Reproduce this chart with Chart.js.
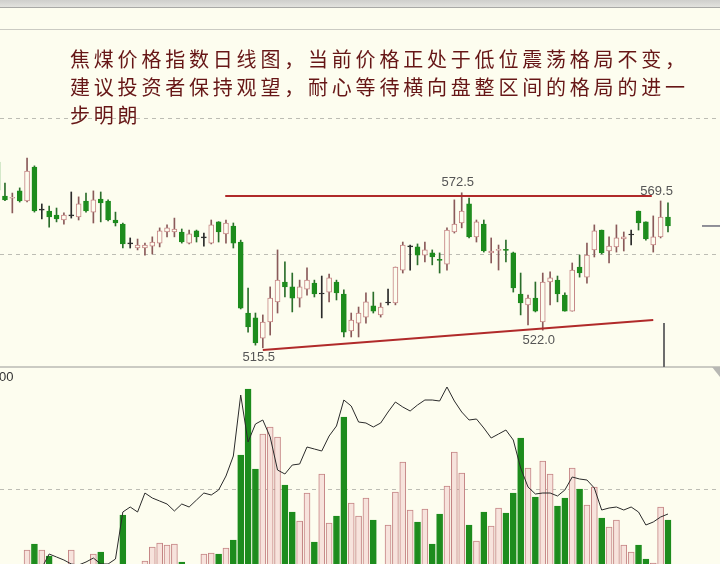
<!doctype html>
<html>
<head>
<meta charset="utf-8" />
<title>焦煤价格指数日线图</title>
<style>
  html, body { margin:0; padding:0; }
  body { width:720px; height:564px; overflow:hidden; background:#fdfdef; position:relative; font-family:"Noto Sans CJK SC", sans-serif; }
  .topbar { position:absolute; left:0; top:0; width:720px; height:7px; background:linear-gradient(#cfcfcc,#e2e2de); border-bottom:1px solid #a9a9a6; }
  .hline { position:absolute; left:0; width:720px; background:#cbcbc3; }
  .vline { position:absolute; background:#6d6d6d; width:2px; }
  .corner { position:absolute; right:0; top:367px; width:0; height:0; border-top:10px solid #b8b8b4; border-left:8px solid transparent; }
  #c { position:absolute; left:0; top:0; }
  .note { position:absolute; left:70px; top:45px; font-size:20px; letter-spacing:3.8px; line-height:28px; color:#661616; white-space:nowrap; }
</style>
</head>
<body>
  <div class="topbar"></div>
  <div class="hline" style="top:29px;height:1px"></div>
  <div class="hline" style="top:366px;height:2px"></div>
  <div class="vline" style="left:663px;top:323px;height:44px"></div>
  <div class="corner"></div>
  <canvas id="c" width="720" height="564"></canvas>
  <div class="note">焦煤价格指数日线图，当前价格正处于低位震荡格局不变，<br>建议投资者保持观望，耐心等待横向盘整区间的格局的进一<br>步明朗</div>

  <script src="https://cdn.jsdelivr.net/npm/chart.js@4.4.1/dist/chart.umd.min.js"></script>
  <script>
    // daily candles, oldest -> newest
    const opens  = [583.8,571.3,570.5,573.2,569.5,582.0,566.1,565.8,564.3,562.5,
                    564.0,563.6,569.5,565.4,570.2,569.5,562.5,561.0,553.7,552.2,
                    552.2,552.9,554.0,558.1,558.1,558.1,554.0,558.5,556.0,554.0,
                    561.8,557.4,560.3,554.4,528.3,526.5,519.1,525.0,532.4,539.7,
                    537.9,533.8,537.1,539.3,535.4,536.0,539.7,535.3,521.7,524.6,
                    526.8,530.9,527.6,532.0,532.0,544.1,552.6,552.6,549.6,550.4,
                    548.0,546.3,558.1,561.4,568.4,556.3,561.0,550.4,551.3,551.7,
                    550.4,535.3,531.3,533.8,525.0,539.7,540.4,534.9,529.0,545.2,
                    541.5,551.5,558.8,551.1,552.6,555.5,557.0,565.8,561.8,553.3,
                    556.3,563.6];
    const highs  = [585.0,576.1,572.4,574.3,585.3,582.4,568.4,567.6,566.9,565.1,
                    572.8,571.0,572.4,573.2,572.8,569.9,565.4,561.4,555.9,555.5,
                    554.0,556.3,559.6,560.7,563.2,559.2,558.8,558.8,557.7,562.5,
                    561.9,562.5,561.4,555.1,537.5,528.3,527.6,537.9,551.5,547.1,
                    543.0,540.4,544.9,540.4,541.9,542.6,540.4,536.8,528.3,530.5,
                    535.7,536.0,532.0,537.1,545.2,554.4,553.3,553.7,554.4,551.5,
                    550.4,559.6,569.9,572.5,570.6,562.5,562.5,555.9,553.3,555.1,
                    550.7,543.0,534.9,539.7,543.0,543.4,541.9,535.7,546.7,549.6,
                    554.0,560.7,558.8,556.3,560.7,558.1,558.8,565.8,561.8,564.0,
                    569.5,568.8];
    const lows   = [572.8,569.6,565.1,569.1,569.1,565.4,562.9,559.9,561.8,561.0,
                    563.2,562.5,565.4,561.4,561.8,562.2,560.3,552.2,552.2,551.5,
                    549.6,550.0,552.6,556.3,556.3,554.0,553.7,554.4,552.9,553.7,
                    554.4,554.0,552.2,529.8,521.3,516.5,515.5,520.2,528.3,534.2,
                    528.7,530.5,534.9,534.2,526.5,532.4,533.1,519.5,519.5,519.5,
                    524.6,528.3,526.8,531.3,531.3,543.0,544.1,546.0,547.1,546.0,
                    543.0,544.1,557.7,559.6,555.9,554.4,550.7,546.7,544.1,547.1,
                    536.0,527.6,523.9,528.7,522.0,531.3,532.4,529.0,529.0,541.5,
                    539.3,548.9,550.0,546.7,550.7,551.1,553.3,558.8,555.1,550.7,
                    555.9,558.1];
    const closes = [573.5,569.9,570.8,569.5,580.5,565.8,566.2,563.6,562.9,564.3,
                    564.1,568.4,565.8,569.9,568.8,562.5,561.4,553.7,553.7,553.3,
                    553.3,554.4,558.5,559.6,559.2,554.4,557.4,556.3,555.9,560.7,
                    558.1,561.4,554.0,530.1,523.2,517.3,525.0,533.8,540.4,537.9,
                    533.8,537.9,540.4,535.3,535.3,541.2,535.7,521.3,525.7,528.3,
                    532.4,529.0,530.5,532.1,545.2,553.3,552.7,549.6,551.5,548.9,
                    547.6,558.8,561.0,565.8,556.3,561.8,551.1,551.1,551.7,551.3,
                    537.5,532.0,533.8,529.0,539.7,541.2,535.3,529.0,544.1,543.0,
                    549.6,558.5,550.4,552.9,555.9,556.3,557.1,561.4,555.5,556.3,
                    563.6,560.3];

    // volume (lower pane) and its moving average
    const volumes = [15,17,13,20,39,45,39,33,19,15,
                     39,21,17,35,37,21,19,74,23,20,
                     28,42,46,44,45,27,22,23,35,36,
                     35,41,49,134,200,120,155,162,152,104,
                     77,68,96,47,115,66,73,172,86,73,
                     91,69,23,64,97,127,79,67,80,45,
                     75,103,137,116,64,48,77,63,81,76,
                     96,151,121,92,128,115,83,91,121,100,
                     84,102,71,62,69,44,37,44,30,26,
                     82,69];
    const volMA = [17,16,17,19,20,22,21,35,32,29,
                   25,24,27,31,25,25,30,77,82,77,
                   96,91,88,85,78,85,82,89,96,94,
                   99,113,133,194,147,165,169,152,119,115,
                   124,125,142,140,138,153,163,189,183,167,
                   166,162,166,177,187,182,178,184,189,189,
                   188,202,188,177,169,170,161,151,155,159,
                   149,121,102,95,96,96,93,99,112,110,
                   109,101,79,81,82,79,82,77,64,67,
                   72,75];

    // hand drawn lines on the price pane
    const resistance = [{ x: 30.9, y: 571.3 }, { x: 88.8, y: 571.3 }];
    const support    = [{ x: 36.0, y: 514.7 }, { x: 89.0, y: 525.7 }];
    const marks = [
      { i: 63, v: 572.5, above: true },
      { i: 36, v: 515.5, above: false },
      { i: 74, v: 522.0, above: false },
      { i: 90, v: 569.5, above: true }
    ];
    const priceGrid = [600, 550];
    const volGrid = [100];

    const GREEN = '#1d8c1d';
    const ROSE = '#c48484';
    const CREAM = '#fdfdef';

    const kind = (i) => {
      const d = closes[i] - opens[i];
      if (Math.abs(d) < 0.15) return 'doji';
      return d > 0 ? 'up' : 'down';
    };
    const idx = opens.map((_, i) => i);

    const overlay = {
      id: 'overlay',
      beforeDatasetsDraw(chart) {
        const { ctx, scales: { y, yVol } } = chart;
        ctx.save();
        ctx.strokeStyle = '#bdbdb4';
        ctx.lineWidth = 1;
        ctx.setLineDash([4, 4]);
        const dash = (py) => {
          py = Math.round(py) + 0.5;
          ctx.beginPath(); ctx.moveTo(0, py); ctx.lineTo(720, py); ctx.stroke();
        };
        priceGrid.forEach(v => dash(y.getPixelForValue(v)));
        volGrid.forEach(v => dash(yVol.getPixelForValue(v)));
        ctx.restore();
      },
      afterDatasetsDraw(chart) {
        const { ctx, scales: { x, y } } = chart;
        ctx.save();
        ctx.font = '13px "Liberation Sans", Arial, sans-serif';
        ctx.fillStyle = '#555';
        ctx.textAlign = 'center';
        ctx.textBaseline = 'middle';
        for (const m of marks) {
          const px = x.getPixelForValue(m.i) - 4;
          const py = y.getPixelForValue(m.v) + (m.above ? -10 : 10);
          ctx.fillText(m.v.toFixed(1), px, py);
        }
        // top label of the volume pane, cut by the left edge
        ctx.textAlign = 'left';
        ctx.fillStyle = '#333';
        ctx.fillText('00', -1, 377);
        // last close marker on the right
        const ly = y.getPixelForValue(closes[closes.length - 1]);
        ctx.strokeStyle = '#6b6b7b';
        ctx.lineWidth = 1.5;
        ctx.beginPath(); ctx.moveTo(702, ly); ctx.lineTo(720, ly); ctx.stroke();
        ctx.restore();
      }
    };

    new Chart(document.getElementById('c'), {
      data: {
        datasets: [
          {
            type: 'line', data: resistance, xAxisID: 'x', yAxisID: 'y',
            borderColor: '#b02a2a', borderWidth: 2, pointRadius: 0, order: 0
          },
          {
            type: 'line', data: support, xAxisID: 'x', yAxisID: 'y',
            borderColor: '#b02a2a', borderWidth: 2, pointRadius: 0, order: 0
          },
          {
            type: 'line', data: idx.map(i => ({ x: i, y: volMA[i] })), yAxisID: 'yVol',
            borderColor: '#2a2a2a', borderWidth: 1, pointRadius: 0, tension: 0, order: 1
          },
          {
            // bodies
            type: 'bar', data: idx.map(i => ({ x: i, y: [opens[i], closes[i]] })), yAxisID: 'y',
            grouped: false, barThickness: 5, maxBarThickness: 5, minBarLength: 1,
            borderWidth: 1, borderSkipped: false,
            backgroundColor: (c) => ({ up: CREAM, down: GREEN, doji: '#2a2a2a' })[kind(c.dataIndex)],
            borderColor: (c) => ({ up: ROSE, down: GREEN, doji: '#2a2a2a' })[kind(c.dataIndex)],
            order: 2
          },
          {
            // wicks
            type: 'bar', data: idx.map(i => ({ x: i, y: [lows[i], highs[i]] })), yAxisID: 'y',
            grouped: false, barThickness: 1, maxBarThickness: 1, borderWidth: 0,
            backgroundColor: (c) => ({ up: '#8a5a5a', down: '#2b6e2b', doji: '#2a2a2a' })[kind(c.dataIndex)],
            order: 3
          },
          {
            type: 'bar', data: idx.map(i => ({ x: i, y: volumes[i] })), yAxisID: 'yVol',
            grouped: false, barThickness: 6, maxBarThickness: 6,
            borderWidth: 1, borderSkipped: false,
            backgroundColor: (c) => kind(c.dataIndex) === 'down' ? GREEN : '#f7e3dc',
            borderColor: (c) => kind(c.dataIndex) === 'down' ? GREEN : ROSE,
            order: 3
          }
        ]
      },
      options: {
        responsive: false,
        animation: false,
        events: [],
        layout: { padding: 0 },
        plugins: { legend: { display: false }, tooltip: { enabled: false } },
        scales: {
          x: { type: 'linear', min: 0.326, max: 98.06, offset: false, display: false },
          y: { type: 'linear', min: 436.03, max: 643.38, display: false },
          yVol: { type: 'linear', min: 25, max: 589, display: false }
        }
      },
      plugins: [overlay]
    });
  </script>
</body>
</html>
